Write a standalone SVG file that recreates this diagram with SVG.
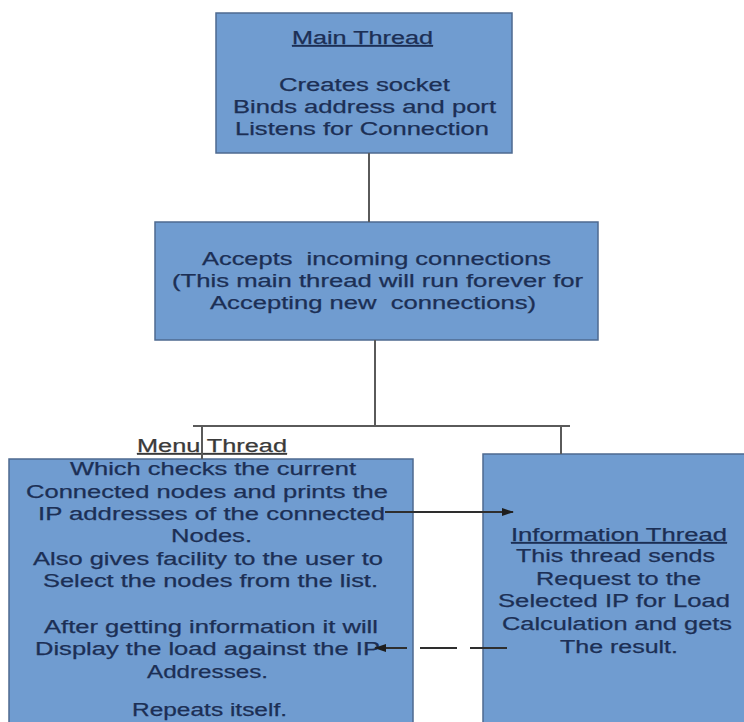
<svg xmlns="http://www.w3.org/2000/svg" width="744" height="722" viewBox="0 0 744 722">
  <defs>
    <style>
      .box { fill: #709cd0; stroke: #4e6a90; stroke-width: 1.5; }
      .t { font-family: "Liberation Sans", Arial, sans-serif; font-size: 17.5px; fill: #1c2f55; text-anchor: middle; white-space: pre; stroke: #1c2f55; stroke-width: 0.25; }
      .u { text-decoration: underline; }
      .lbl { fill: #3a3a3a; stroke: #3a3a3a; }
      .conn { stroke: #5a5a5a; stroke-width: 2; fill: none; }
      .arr { stroke: #2e2e2e; stroke-width: 2; fill: none; }
      .dash { stroke-dasharray: 37 13; }
    </style>
    <marker id="ah" viewBox="0 0 12 8" refX="11" refY="4" markerWidth="12" markerHeight="8" markerUnits="userSpaceOnUse" orient="auto">
      <path d="M0,0 L12,4 L0,8 z" fill="#1e1e1e"/>
    </marker>
  </defs>
  <rect width="744" height="722" fill="#ffffff"/>

  <g id="main-thread">
    <rect class="box" x="216" y="13" width="296" height="140"/>
    <text class="t u" x="362.5" y="44" textLength="141" lengthAdjust="spacingAndGlyphs">Main Thread</text>
    <text class="t" x="364.5" y="91" textLength="171" lengthAdjust="spacingAndGlyphs">Creates socket</text>
    <text class="t" x="364.5" y="113" textLength="263" lengthAdjust="spacingAndGlyphs">Binds address and port</text>
    <text class="t" x="362" y="135" textLength="254" lengthAdjust="spacingAndGlyphs">Listens for Connection</text>
  </g>

  <g id="accept-node">
    <rect class="box" x="155" y="222" width="443" height="118"/>
    <text class="t" x="376.5" y="265" textLength="349" lengthAdjust="spacingAndGlyphs">Accepts  incoming connections</text>
    <text class="t" x="377.5" y="287" textLength="411" lengthAdjust="spacingAndGlyphs">(This main thread will run forever for</text>
    <text class="t" x="373" y="309" textLength="326" lengthAdjust="spacingAndGlyphs">Accepting new  connections)</text>
  </g>

  <g id="menu-thread">
    <rect class="box" x="9" y="459" width="404" height="280"/>
    <text class="t u lbl" x="212" y="452" textLength="150" lengthAdjust="spacingAndGlyphs">Menu Thread</text>
    <text class="t" x="213" y="475" textLength="286" lengthAdjust="spacingAndGlyphs">Which checks the current</text>
    <text class="t" x="207" y="498" textLength="362" lengthAdjust="spacingAndGlyphs">Connected nodes and prints the</text>
    <text class="t" x="211.5" y="520" textLength="347" lengthAdjust="spacingAndGlyphs">IP addresses of the connected</text>
    <text class="t" x="211.5" y="542" textLength="81" lengthAdjust="spacingAndGlyphs">Nodes.</text>
    <text class="t" x="208" y="565" textLength="350" lengthAdjust="spacingAndGlyphs">Also gives facility to the user to</text>
    <text class="t" x="210.5" y="587" textLength="335" lengthAdjust="spacingAndGlyphs">Select the nodes from the list.</text>
    <text class="t" x="211" y="633" textLength="334" lengthAdjust="spacingAndGlyphs">After getting information it will</text>
    <text class="t" x="207.5" y="655" textLength="345" lengthAdjust="spacingAndGlyphs">Display the load against the IP</text>
    <text class="t" x="207.5" y="678" textLength="121" lengthAdjust="spacingAndGlyphs">Addresses.</text>
    <text class="t" x="209.5" y="716" textLength="155" lengthAdjust="spacingAndGlyphs">Repeats itself.</text>
  </g>

  <g id="information-thread">
    <rect class="box" x="483" y="454" width="280" height="290"/>
    <text class="t u" x="619" y="541" textLength="216" lengthAdjust="spacingAndGlyphs">Information Thread</text>
    <text class="t" x="615.5" y="562" textLength="199" lengthAdjust="spacingAndGlyphs">This thread sends</text>
    <text class="t" x="618.5" y="585" textLength="165" lengthAdjust="spacingAndGlyphs">Request to the</text>
    <text class="t" x="614" y="607" textLength="232" lengthAdjust="spacingAndGlyphs">Selected IP for Load</text>
    <text class="t" x="617" y="630" textLength="230" lengthAdjust="spacingAndGlyphs">Calculation and gets</text>
    <text class="t" x="619" y="653" textLength="118" lengthAdjust="spacingAndGlyphs">The result.</text>
  </g>

  <g id="connectors">
    <line class="conn" x1="369" y1="153" x2="369" y2="222"/>
    <line class="conn" x1="375" y1="340" x2="375" y2="426"/>
    <line class="conn" x1="193" y1="426" x2="570" y2="426"/>
    <line class="conn" x1="202" y1="426" x2="202" y2="459"/>
    <line class="conn" x1="561" y1="426" x2="561" y2="454"/>
    <line class="arr" x1="385" y1="512" x2="513" y2="512" marker-end="url(#ah)"/>
    <line class="arr dash" x1="507" y1="648" x2="375" y2="648" marker-end="url(#ah)"/>
  </g>
</svg>
